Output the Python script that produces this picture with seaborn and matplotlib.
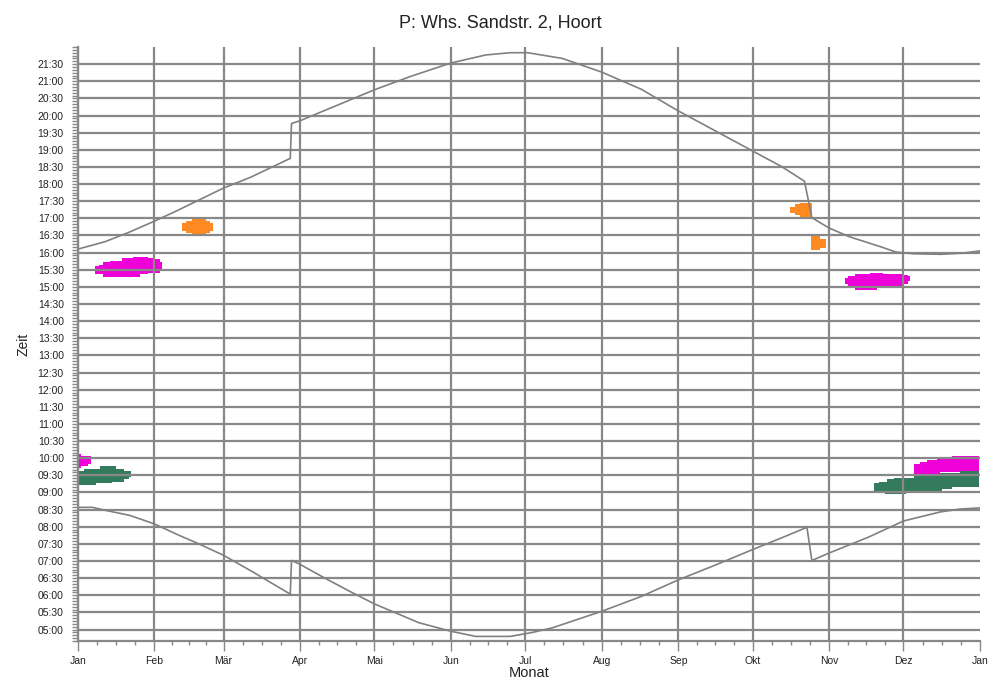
import matplotlib
matplotlib.use("Agg")
import matplotlib.pyplot as plt
import pandas as pd
import seaborn as sns
from matplotlib.ticker import FixedLocator, FuncFormatter, MultipleLocator

TITLE = "P: Whs. Sandstr. 2, Hoort"

MONTH_LABELS = ["Jan", "Feb", "Mär", "Apr", "Mai", "Jun", "Jul",
                "Aug", "Sep", "Okt", "Nov", "Dez", "Jan"]
MONTH_STARTS = [0, 31, 59, 90, 120, 151, 181, 212, 243, 273, 304, 334, 365]

# astronomical sunrise / sunset (day of year, local time)
SUNSET_DAYS = [0, 11, 21, 31, 40, 49, 59, 70, 86, 86.5, 90, 100, 110, 120, 135,
               151, 165, 175, 182, 196, 212, 228, 243, 258, 273, 285, 294,
               297, 304, 312, 325, 331, 338, 349, 358, 365]
SUNSET_TIMES = ["16:06", "16:19", "16:36", "16:55", "17:13", "17:32", "17:53",
                "18:12", "18:45", "19:46", "19:51", "20:09", "20:27", "20:45",
                "21:09", "21:32", "21:46", "21:50", "21:50", "21:40", "21:16",
                "20:46", "20:08", "19:33", "18:58", "18:30", "18:05", "17:01",
                "16:43", "16:28", "16:10", "16:01", "15:58", "15:57", "15:59",
                "16:03"]

SUNRISE_DAYS = [0, 6, 12, 21, 31, 41, 48, 59, 70, 86, 86.5, 90, 100, 110, 120,
                138, 151, 161, 175, 184, 192, 212, 228, 243, 258, 273, 285,
                295, 297, 304, 320, 334, 349, 357, 365]
SUNRISE_TIMES = ["08:34", "08:34", "08:28", "08:20", "08:05", "07:45", "07:32",
                 "07:10", "06:43", "06:02", "07:01", "06:54", "06:30", "06:07",
                 "05:45", "05:12", "04:57", "04:48", "04:48", "04:55", "05:03",
                 "05:32", "05:58", "06:27", "06:53", "07:20", "07:41", "07:59",
                 "07:01", "07:14", "07:42", "08:10", "08:26", "08:31", "08:33"]

# shadow periods: day edges, shadow start and end per day block
JAN_MAG_DAYS = [0.5, 1.5, 4.0, 5.3]
JAN_MAG_START = ["09:43", "09:47", "09:50"]
JAN_MAG_END = ["10:07", "10:03", "10:03"]

JAN_GREEN_DAYS = [0.5, 2.6, 7.6, 8.9, 13.7, 15.3, 18.7, 20.8, 21.5]
JAN_GREEN_START = ["09:13", "09:13", "09:16", "09:16", "09:19", "09:19", "09:23", "09:27"]
JAN_GREEN_END = ["09:38", "09:41", "09:41", "09:46", "09:46", "09:41", "09:38", "09:38"]

FEB_MAG_DAYS = [7.0, 8.6, 10.2, 13.1, 17.9, 22.4, 25.2, 28.4, 31.3, 33.3, 34.1]
FEB_MAG_START = ["15:23", "15:22", "15:18", "15:18", "15:18", "15:18",
                 "15:23", "15:25", "15:25", "15:32"]
FEB_MAG_END = ["15:36", "15:39", "15:43", "15:46", "15:50", "15:52",
               "15:52", "15:50", "15:48", "15:43"]

FEB_ORANGE_DAYS = [42.1, 43.7, 46.1, 51.8, 53.4, 54.6]
FEB_ORANGE_START = ["16:37", "16:34", "16:32", "16:35", "16:38"]
FEB_ORANGE_END = ["16:51", "16:56", "16:58", "16:56", "16:51"]

OCT_ORANGE1_DAYS = [288.2, 290.2, 292.2, 297.2]
OCT_ORANGE1_START = ["17:09", "17:05", "17:02"]
OCT_ORANGE1_END = ["17:20", "17:25", "17:27"]

OCT_ORANGE2_DAYS = [296.7, 300.4, 302.6]
OCT_ORANGE2_START = ["16:04", "16:08"]
OCT_ORANGE2_END = ["16:29", "16:24"]

NOV_MAG_DAYS = [310.4, 311.6, 314.4, 320.5, 323.4, 325.8, 329.8, 333.9, 335.9, 336.7]
NOV_MAG_START = ["15:05", "15:01", "14:55", "14:54", "14:58", "14:59", "15:02", "15:05", "15:11"]
NOV_MAG_END = ["15:15", "15:19", "15:22", "15:25", "15:25", "15:23", "15:22", "15:21", "15:19"]

DEC_GREEN_DAYS = [322.1, 324.3, 326.6, 327.3, 330.2, 335.0, 338.3, 343.7,
                  348.8, 349.5, 353.6, 356.9, 364.8]
DEC_GREEN_START = ["09:02", "09:02", "08:58", "08:58", "08:58", "09:01", "09:01",
                   "09:02", "09:02", "09:06", "09:10", "09:10"]
DEC_GREEN_END = ["09:16", "09:19", "09:19", "09:23", "09:26", "09:26", "09:30",
                 "09:30", "09:34", "09:34", "09:34", "09:38"]

DEC_MAG_DAYS = [338.3, 340.0, 340.8, 343.7, 347.5, 348.8, 353.6, 356.9, 364.8]
DEC_MAG_START = ["09:33", "09:31", "09:31", "09:31", "09:31", "09:35", "09:35", "09:38"]
DEC_MAG_END = ["09:49", "09:49", "09:53", "09:56", "09:59", "09:59", "10:03", "10:03"]

MAGENTA = "#f000d8"
GREEN = "#347b5e"
ORANGE = "#ff8a22"
GRAY = "#888888"


def to_hours(times):
    return [int(t[:2]) + int(t[3:]) / 60 for t in times]


def draw_shadow(ax, days, start, end, color):
    lo = to_hours(start)
    hi = to_hours(end)
    ax.fill_between(days, lo + lo[-1:], hi + hi[-1:], step="post",
                    color=color, linewidth=0, zorder=1)


sns.set_style("white")
plt.rcParams["font.family"] = ["Liberation Sans", "DejaVu Sans"]

fig = plt.figure(figsize=(10.05, 6.84), dpi=100)
ax = fig.add_axes([0.0773, 0.0629, 0.8978, 0.8684])

draw_shadow(ax, JAN_GREEN_DAYS, JAN_GREEN_START, JAN_GREEN_END, GREEN)
draw_shadow(ax, JAN_MAG_DAYS, JAN_MAG_START, JAN_MAG_END, MAGENTA)
draw_shadow(ax, FEB_MAG_DAYS, FEB_MAG_START, FEB_MAG_END, MAGENTA)
draw_shadow(ax, FEB_ORANGE_DAYS, FEB_ORANGE_START, FEB_ORANGE_END, ORANGE)
draw_shadow(ax, OCT_ORANGE1_DAYS, OCT_ORANGE1_START, OCT_ORANGE1_END, ORANGE)
draw_shadow(ax, OCT_ORANGE2_DAYS, OCT_ORANGE2_START, OCT_ORANGE2_END, ORANGE)
draw_shadow(ax, NOV_MAG_DAYS, NOV_MAG_START, NOV_MAG_END, MAGENTA)
draw_shadow(ax, DEC_GREEN_DAYS, DEC_GREEN_START, DEC_GREEN_END, GREEN)
draw_shadow(ax, DEC_MAG_DAYS, DEC_MAG_START, DEC_MAG_END, MAGENTA)

sun_df = pd.concat([
    pd.DataFrame({"day": SUNSET_DAYS, "time": to_hours(SUNSET_TIMES), "kind": "set"}),
    pd.DataFrame({"day": SUNRISE_DAYS, "time": to_hours(SUNRISE_TIMES), "kind": "rise"}),
])
sns.lineplot(data=sun_df, x="day", y="time", units="kind", estimator=None,
             color="#808080", linewidth=1.2, legend=False, ax=ax, zorder=2)

ax.set_xlim(0, 365)
ax.set_ylim(4 + 40 / 60, 22.0)

ax.xaxis.set_major_locator(FixedLocator(MONTH_STARTS))
ax.set_xticklabels(MONTH_LABELS)
minor_x = [s + (e - s) * k / 4 for s, e in zip(MONTH_STARTS[:-1], MONTH_STARTS[1:])
           for k in (1, 2, 3)]
ax.xaxis.set_minor_locator(FixedLocator(minor_x))

ax.yaxis.set_major_locator(FixedLocator([5 + 0.5 * i for i in range(34)]))
ax.yaxis.set_major_formatter(FuncFormatter(
    lambda v, pos: "%02d:%02d" % (int(v + 1e-6), round((v - int(v + 1e-6)) * 60))))
ax.yaxis.set_minor_locator(MultipleLocator(5 / 60))

ax.set_axisbelow("line")
ax.grid(True, which="major", color=GRAY, linewidth=1.6)
ax.get_xgridlines()[-1].set_visible(False)

ax.tick_params(axis="y", which="both", direction="out", length=4, width=1,
               color=GRAY, labelsize=7.5, pad=6, left=True, labelcolor="#222222")
ax.tick_params(axis="x", which="major", direction="out", length=7, width=1,
               color=GRAY, labelsize=7.5, pad=4, bottom=True, labelcolor="#222222")
ax.tick_params(axis="x", which="minor", direction="out", length=3, width=1,
               color=GRAY, bottom=True)

for side in ["top", "right"]:
    ax.spines[side].set_visible(False)
for side in ["left", "bottom"]:
    ax.spines[side].set_color(GRAY)
    ax.spines[side].set_linewidth(1.6)

ax.set_xlabel("Monat", fontsize=10.5, labelpad=0, color="#222222")
ax.set_ylabel("Zeit", fontsize=10, labelpad=5, color="#222222")
fig.text(0.4975, 0.966, TITLE, fontsize=13, ha="center", va="center", color="#222222")

fig.savefig("out.png", dpi=100)
